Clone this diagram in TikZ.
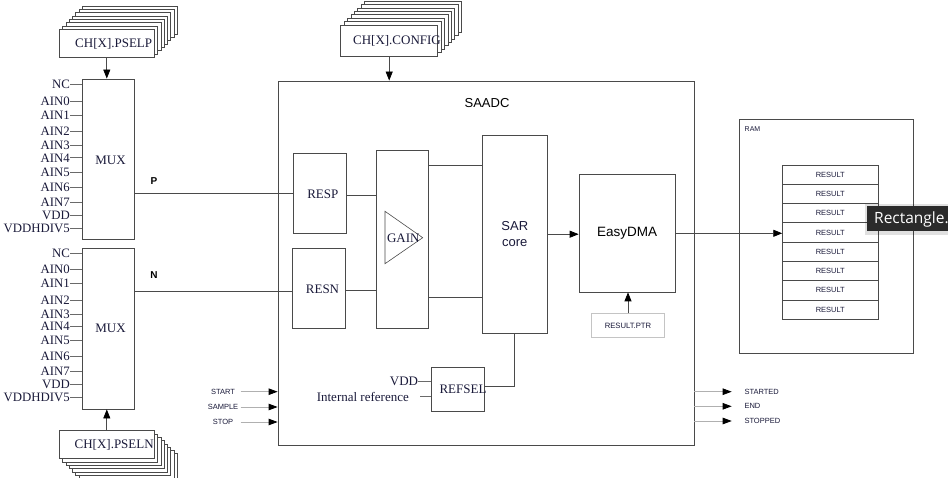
\documentclass[tikz,border=0pt]{standalone}
\usepackage{fontspec}
\setmainfont{Liberation Serif}
\setsansfont{Liberation Sans}
\newfontfamily\tipfont{Open Sans}
\usetikzlibrary{arrows.meta,calc}
\newcommand{\myfs}[1]{\fontsize{#1}{#1}\selectfont}
\definecolor{edge}{HTML}{4A4A4A}
\definecolor{pin}{HTML}{6A6A6A}
\definecolor{sig}{HTML}{B0B0B0}
\definecolor{ptr}{HTML}{C4C4C4}
\definecolor{tipbg}{HTML}{2B2B2B}
\definecolor{txt}{HTML}{1A1A3A}
\begin{document}
\begin{tikzpicture}[x=1pt,y=-1pt,
  blk/.style={draw=edge,line width=0.8pt,fill=white,inner sep=0pt,font=\myfs{13},text=txt},
  stackbox/.style={draw=edge,line width=0.8pt,fill=white},
  serif/.style={font=\myfs{13},inner sep=0pt,text=txt},
  pinlbl/.style={font=\myfs{12.8},inner sep=0pt,anchor=east,text=txt},
  pinln/.style={draw=pin,line width=0.8pt},
  wire/.style={draw=edge,line width=0.8pt},
  arr/.style={draw=edge,line width=0.8pt,-{Triangle[length=9pt,width=7pt,color=black]}},
  sigarr/.style={draw=sig,line width=0.8pt,-{Triangle[length=9pt,width=6.5pt,color=black]}},
  small/.style={font=\sffamily\myfs{7.5},inner sep=0pt,text=txt},
  bigsans/.style={font=\sffamily\myfs{13},inner sep=0pt,text=black}]
\path[use as bounding box] (0,0) rectangle (948,478);
\clip (0,0) rectangle (948,478);
\fill[white] (0,0) rectangle (948,478);

% ---- stacked register boxes ----
\foreach \k in {7,6,...,1}
  \draw[stackbox] (59.3+\k*3.3,29.3-\k*3.3) rectangle ++(95,28);
\node[blk,minimum width=95pt,minimum height=28pt] (pselp) at (106.8,43.3) {};
\node[serif] at (113.7,43.6) {CH[X].PSELP};

\foreach \k in {7,6,...,1}
  \draw[stackbox] (59.3+\k*3.3,430.7+\k*3.3) rectangle ++(95,28);
\node[blk,minimum width=95pt,minimum height=28pt] (pseln) at (106.8,444.7) {};
\node[serif] at (114.2,445) {CH[X].PSELN};

\foreach \k in {7,6,...,1}
  \draw[stackbox] (340.7+\k*3.4,25-\k*3.4) rectangle ++(97,31);
\node[blk,minimum width=97pt,minimum height=31pt] (config) at (389.2,40.5) {};
\node[serif] at (397,41) {CH[X].CONFIG};

% ---- MUXes ----
\node[blk,minimum width=52pt,minimum height=160pt] (muxp) at (108,159) {};
\node[serif] at (110.5,160) {MUX};
\node[blk,minimum width=52pt,minimum height=161pt] (muxn) at (108,328.5) {};
\node[serif] at (110.5,328.5) {MUX};

\foreach \lab/\y in {NC/84,AIN0/101,AIN1/115.7,AIN2/131,AIN3/145.5,AIN4/157.8,AIN5/172.3,AIN6/187.3,AIN7/202.3,VDD/215.3,VDDHDIV5/228.7}{
  \node[pinlbl] (pa-\lab) at (70,\y) {\lab};
  \draw[pinln] (pa-\lab.east) -- (muxp.west |- pa-\lab.east);
}
\foreach \lab/\y in {NC/253.3,AIN0/269.3,AIN1/283.7,AIN2/300.3,AIN3/314.5,AIN4/326.5,AIN5/340.3,AIN6/356.7,AIN7/371,VDD/384.3,VDDHDIV5/397.7}{
  \node[pinlbl] (pb-\lab) at (70,\y) {\lab};
  \draw[pinln] (pb-\lab.east) -- (muxn.west |- pb-\lab.east);
}

\draw[arr] (pselp.south) -- (pselp.south |- muxp.north);
\draw[arr] (pseln.north) -- (pseln.north |- muxn.south);

% ---- SAADC ----
\node[blk,minimum width=416pt,minimum height=364pt] (saadc) at (486,263) {};
\node[bigsans] at (487,103) {SAADC};
\draw[arr] (config.south) -- (config.south |- saadc.north);

\node[blk,minimum width=53pt,minimum height=80.4pt] (resp) at (319.5,193.5) {};
\node[serif] at (322.8,194) {RESP};
\node[blk,minimum width=53pt,minimum height=80.7pt] (resn) at (319.3,288.3) {};
\node[serif] at (322.5,289) {RESN};
\node[blk,minimum width=52.4pt,minimum height=178.7pt] (gain) at (402.5,239.3) {};
\draw[draw=edge,line width=0.6pt] (385,211.3) -- (385,263.7) -- (422.7,237.7) -- cycle;
\node[serif] at (403.3,238) {GAIN};
\node[blk,minimum width=65.7pt,minimum height=197.7pt,font=\sffamily\myfs{13},align=center] (sar) at (514.8,234.2) {SAR\\[2.5pt]core};
\node[blk,minimum width=96.3pt,minimum height=117.3pt,font=\sffamily\myfs{13.5},text=black] (dma) at (627.2,233.3) {EasyDMA};
\node[blk,draw=ptr,minimum width=72.6pt,minimum height=24pt,font=\sffamily\myfs{7.7}] (ptr) at (628,325.7) {RESULT.PTR};
\node[blk,minimum width=53.3pt,minimum height=43.7pt] (refsel) at (457.7,389.2) {};
\node[serif] at (463,389.5) {REFSEL};

\node[font=\sffamily\bfseries\myfs{10},inner sep=0pt] (plbl) at (154,181) {P};
\node[font=\sffamily\bfseries\myfs{10},inner sep=0pt] (nlbl) at (154,275) {N};
\draw[wire] (muxp.east |- resp.west) -- (resp.west);
\coordinate (nline) at (resn.west |- 0,291.7);
\draw[wire] (muxn.east |- nline) -- (nline);
\draw[wire] (resp.east |- 0,195.3) -- (gain.west |- 0,195.3);
\draw[wire] (resn.east |- 0,290) -- (gain.west |- 0,290);
\draw[wire] (gain.east |- 0,165) -- (sar.west |- 0,165);
\draw[wire] (gain.east |- 0,297.3) -- (sar.west |- 0,297.3);
\draw[arr] (sar.east) -- (sar.east -| dma.west);
\draw[arr] (ptr.north) -- (ptr.north |- dma.south);
\coordinate (refin) at (refsel.east |- 0,386);
\draw[wire] (sar.south) |- (refin);

\node[pinlbl,font=\myfs{13}] (vddref) at (418.3,381.7) {VDD};
\draw[pinln] (vddref.east) -- (refsel.west |- vddref.east);
\node[pinlbl,font=\myfs{13}] (intref) at (409,396.7) {Internal reference};
\coordinate (intrefc) at (420,396.7);
\draw[pinln] (intrefc) -- (refsel.west |- intrefc);

% ---- tasks / events ----
\foreach \nm/\lab/\y in {st/START/391.7,sa/SAMPLE/407,sp/STOP/422}{
  \node[small] (\nm) at (223,\y) {\lab};
  \coordinate (\nm c) at (240.7,\y);
  \draw[sigarr] (\nm c) -- (saadc.west |- \nm c);
}
\foreach \nm/\lab/\y in {ev1/STARTED/391.7,ev2/END/406.3,ev3/STOPPED/421}{
  \coordinate (\nm c) at (731.7,\y);
  \draw[sigarr] (saadc.east |- \nm c) -- (\nm c);
  \node[small,anchor=west] (\nm) at (744.3,\y) {\lab};
}

% ---- RAM ----
\node[blk,minimum width=174.4pt,minimum height=234.7pt] (ram) at (826.5,236.3) {};
\node[small,font=\sffamily\myfs{7},anchor=west] at (744.5,129.5) {RAM};
\foreach \i in {0,...,7}
  \node[blk,minimum width=95.3pt,minimum height=19.29pt,font=\sffamily\myfs{7.5}] (r\i) at (830.3,174.65+\i*19.29) {RESULT};
\draw[arr] (dma.east) -- (dma.east -| r3.west);

% ---- tooltip overlay ----
\fill[black,opacity=0.12] (864.7,204) rectangle (960,235.3);
\fill[tipbg] (866.7,206) rectangle (960,231.3);
\node[font=\tipfont\myfs{15.5},text=white,anchor=west,inner sep=0pt] at (874,219.3) {Rectangle.1};
\end{tikzpicture}
\end{document}
